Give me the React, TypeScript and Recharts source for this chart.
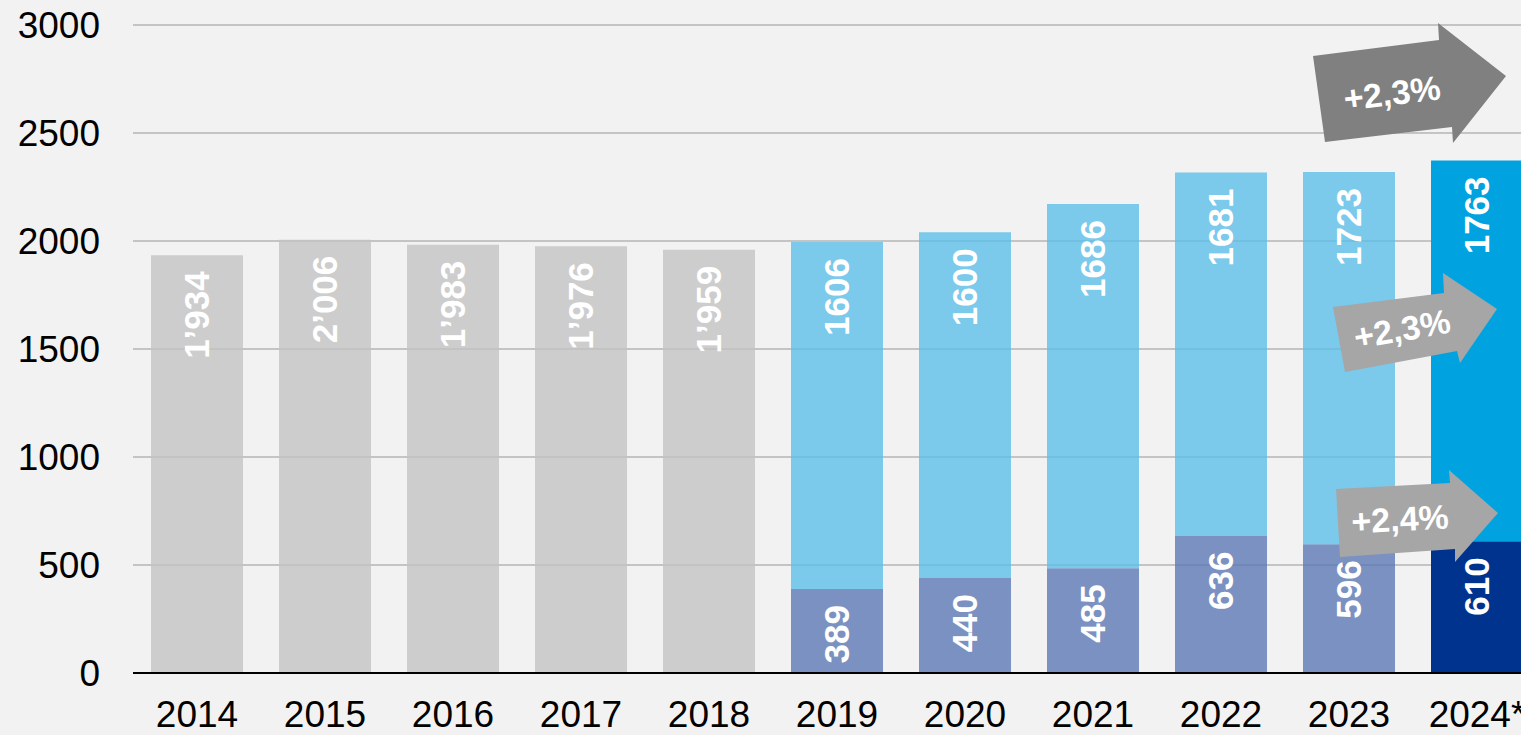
import { BarChart, Bar, XAxis, YAxis, CartesianGrid, Cell, LabelList } from "recharts";

// données
const years = ["2014", "2015", "2016", "2017", "2018", "2019", "2020", "2021", "2022", "2023", "2024*"];
const totalOld = [1934, 2006, 1983, 1976, 1959, null, null, null, null, null, null];
const lower = [null, null, null, null, null, 389, 440, 485, 636, 596, 610];
const upper = [null, null, null, null, null, 1606, 1600, 1686, 1681, 1723, 1763];
const yTicks = [0, 500, 1000, 1500, 2000, 2500, 3000];

const data = years.map((year, i) => ({
  year,
  old: totalOld[i],
  lower: lower[i],
  upper: upper[i],
}));

const FONT = "'Liberation Sans', Arial, sans-serif";
const BG = "#f2f2f2";

function withApostrophe(v: number) {
  const s = String(v);
  return s.length > 3 ? s.slice(0, -3) + "\u2019" + s.slice(-3) : s;
}

function makeLabel(format: (v: number) => string) {
  return (props: any) => {
    const { x, y, width, value } = props;
    if (value === null || value === undefined || value === 0) return null;
    const cx = Number(x) + Number(width) / 2;
    const ty = Number(y) + 16;
    return (
      <text
        x={cx}
        y={ty}
        transform={`rotate(-90, ${cx}, ${ty})`}
        textAnchor="end"
        dominantBaseline="central"
        fill="#ffffff"
        fontFamily={FONT}
        fontWeight="bold"
        fontSize={35}
      >
        {format(Number(value))}
      </text>
    );
  };
}

// flèches d'annotation (dessinées par-dessus le graphique)
const arrows = [
  {
    points: "1313,56 1439,40 1438,23 1506,76 1453,143 1452,127 1325,142",
    fill: "#808080",
    text: "+2,3%",
    cx: 1392,
    cy: 93,
    angle: -7,
  },
  {
    points: "1333,307 1444,293 1443,273 1497,309 1460,363 1457,351 1345,372",
    fill: "#a6a6a6",
    text: "+2,3%",
    cx: 1402,
    cy: 329,
    angle: -10,
  },
  {
    points: "1336,489 1450,483 1449,470 1498,513 1455,562 1455,549 1340,557",
    fill: "#a6a6a6",
    text: "+2,4%",
    cx: 1400,
    cy: 519,
    angle: -3,
  },
];

export default function App() {
  const lastIndex = years.length - 1;
  return (
    <div
      style={{
        position: "absolute",
        left: 0,
        top: 0,
        width: 1521,
        height: 735,
        overflow: "hidden",
        background: BG,
      }}
    >
      <BarChart
        width={1541}
        height={735}
        data={data}
        margin={{ top: 25, right: 0, bottom: 0, left: 0 }}
        barCategoryGap={18}
      >
        <CartesianGrid vertical={false} stroke="#b4b4b4" strokeWidth={1.5} />
        <XAxis
          dataKey="year"
          height={62}
          tickLine={false}
          tickSize={0}
          tickMargin={28}
          axisLine={{ stroke: "#000000", strokeWidth: 2 }}
          tick={{ fill: "#000000", fontSize: 37, fontFamily: FONT }}
          interval={0}
        />
        <YAxis
          width={133}
          domain={[0, 3000]}
          ticks={yTicks}
          axisLine={false}
          tickLine={false}
          tickSize={0}
          tickMargin={33}
          tick={{ fill: "#000000", fontSize: 37, fontFamily: FONT }}
        />
        <Bar dataKey="old" stackId="a" fill="#c3c3c3" fillOpacity={0.8} isAnimationActive={false}>
          <LabelList dataKey="old" content={makeLabel(withApostrophe)} />
        </Bar>
        <Bar dataKey="lower" stackId="a" fill="#5c78b4" isAnimationActive={false}>
          {data.map((d, i) => (
            <Cell
              key={d.year}
              fill={i === lastIndex ? "#00338d" : "#5c78b4"}
              fillOpacity={i === lastIndex ? 1 : 0.8}
            />
          ))}
          <LabelList dataKey="lower" content={makeLabel((v) => String(v))} />
        </Bar>
        <Bar dataKey="upper" stackId="a" fill="#5cbee8" isAnimationActive={false}>
          {data.map((d, i) => (
            <Cell
              key={d.year}
              fill={i === lastIndex ? "#00a3e0" : "#5cbee8"}
              fillOpacity={i === lastIndex ? 1 : 0.8}
            />
          ))}
          <LabelList dataKey="upper" content={makeLabel((v) => String(v))} />
        </Bar>
      </BarChart>
      <svg
        width={1521}
        height={735}
        style={{ position: "absolute", left: 0, top: 0, pointerEvents: "none" }}
      >
        {arrows.map((a, i) => (
          <g key={i}>
            <polygon points={a.points} fill={a.fill} />
            <text
              x={a.cx}
              y={a.cy}
              transform={`rotate(${a.angle}, ${a.cx}, ${a.cy})`}
              textAnchor="middle"
              dominantBaseline="central"
              fill="#ffffff"
              fontFamily={FONT}
              fontWeight="bold"
              fontSize={34}
            >
              {a.text}
            </text>
          </g>
        ))}
      </svg>
    </div>
  );
}
